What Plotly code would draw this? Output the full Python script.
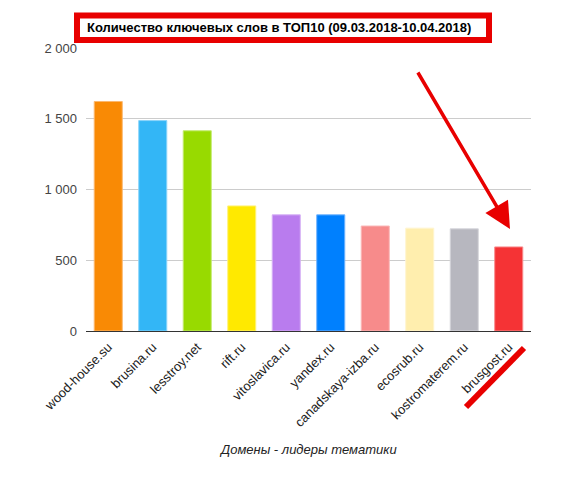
import plotly.graph_objects as go

# Домены и количество ключевых слов в ТОП10
domains = ["wood-house.su", "brusina.ru", "lesstroy.net", "rift.ru", "vitoslavica.ru",
           "yandex.ru", "canadskaya-izba.ru", "ecosrub.ru", "kostromaterem.ru", "brusgost.ru"]
keywords = [1622, 1487, 1415, 884, 821, 821, 742, 727, 722, 594]

bar_colors = ["#F98A05", "#33B6F6", "#98DA00", "#FFE900", "#B97CEE",
              "#0080FE", "#F78B8B", "#FFEEAE", "#B7B7BF", "#F53335"]
edge_colors = ["#FBB870", "#8AD4FA", "#C4EA70", "#FFF27A", "#D6B2F5",
               "#70B3FE", "#FAB8B8", "#FFF5D0", "#D6D6DB", "#F98A8B"]

# страница имеет отступ 8px, поэтому рисунок чуть меньше окна
OFF = 8
W, H = 577 - OFF, 477 - OFF
L, R, T, B = 86 - OFF, 46, 48 - OFF, 146
pw, ph = W - L - R, H - T - B


def px_x(x):
    return (x - OFF - L) / pw


def px_y(y):
    return (H - B - (y - OFF)) / ph


fig = go.Figure(go.Bar(
    x=domains,
    y=keywords,
    marker=dict(color=bar_colors, line=dict(color=edge_colors, width=1)),
    width=0.63,
))

font = "Arial, Liberation Sans, sans-serif"

fig.update_layout(
    width=W, height=H,
    margin=dict(l=L, r=R, t=T, b=B),
    plot_bgcolor="white", paper_bgcolor="white",
    separators=", ",
    showlegend=False,
    font=dict(family=font, size=13, color="#222"),
    xaxis=dict(tickangle=-45, tickfont=dict(size=13, color="#222"),
               showline=False, ticks="", ticklabelstandoff=5),
    yaxis=dict(range=[0, 2000], dtick=500, tickformat=",d",
               gridcolor="#CCCCCC", gridwidth=1,
               zeroline=True, zerolinecolor="#333", zerolinewidth=1,
               tickfont=dict(size=13, color="#444"), ticks="", ticklabelstandoff=8),
    shapes=[
        # рамка вокруг заголовка
        dict(type="rect", xref="paper", yref="paper",
             x0=px_x(77), x1=px_x(489), y0=px_y(40), y1=px_y(15.5),
             line=dict(color="#E80000", width=6), fillcolor="white", layer="above"),
        # подчёркивание brusgost.ru
        dict(type="line", xref="paper", yref="paper",
             x0=px_x(466), y0=px_y(407), x1=px_x(524), y1=px_y(348),
             line=dict(color="#E80000", width=6)),
    ],
    annotations=[
        dict(text="<b>Количество ключевых слов в ТОП10 (09.03.2018-10.04.2018)</b>",
             xref="paper", yref="paper", x=px_x(85), y=px_y(28),
             xanchor="left", yanchor="middle", showarrow=False,
             font=dict(size=13, color="#000")),
        dict(text="<i>Домены - лидеры тематики</i>",
             xref="paper", yref="paper", x=px_x(308), y=px_y(449),
             xanchor="center", yanchor="middle", showarrow=False,
             font=dict(size=13, color="#222")),
        dict(text="", xref="paper", yref="paper", x=px_x(510), y=px_y(229),
             ax=417 - 510, ay=71 - 229, showarrow=True,
             arrowhead=2, arrowsize=1.5, arrowwidth=3.5, arrowcolor="#E80000"),
    ],
)

fig.write_html("out.html")
